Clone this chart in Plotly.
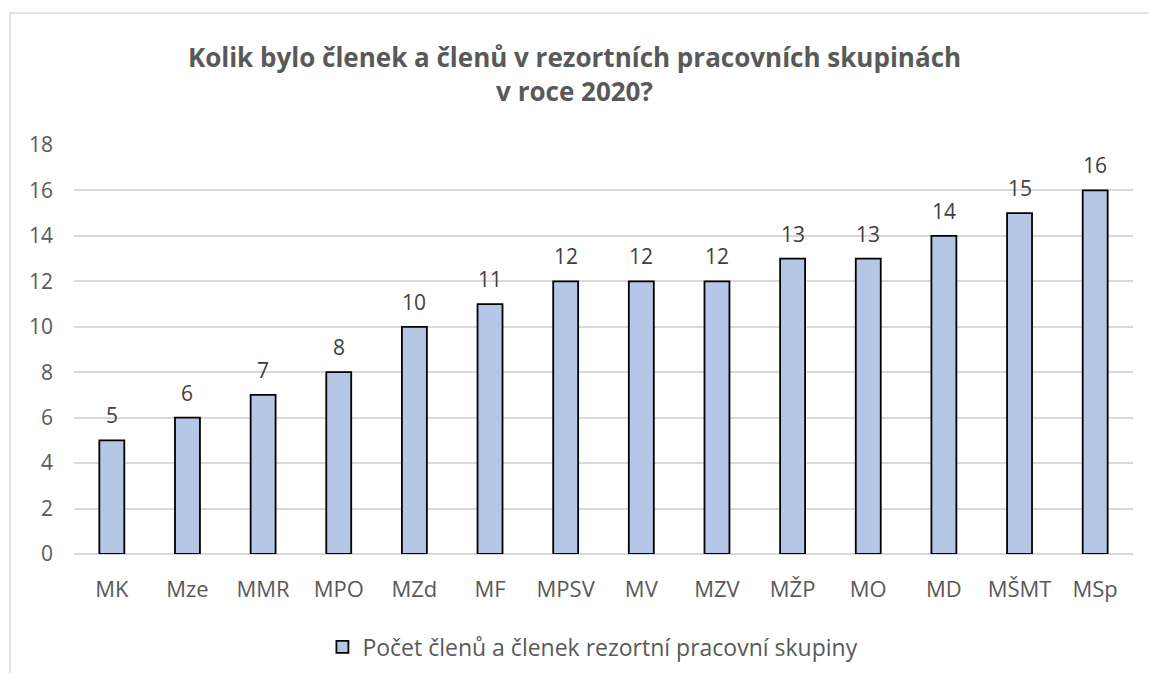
import plotly.graph_objects as go

# data
resorty = ["MK", "Mze", "MMR", "MPO", "MZd", "MF", "MPSV", "MV", "MZV", "MŽP", "MO", "MD", "MŠMT", "MSp"]
pocty = [5, 6, 7, 8, 10, 11, 12, 12, 12, 13, 13, 14, 15, 16]
nazev_serie = "Počet členů a členek rezortní pracovní skupiny"
titulek = "<b>Kolik bylo členek a členů v rezortních pracovních skupinách<br>v roce 2020?</b>"

BAR_FILL = "#B4C7E7"
TEXT_GRAY = "#595959"
GRID = "#D9D9D9"
FONT = "Open Sans, Liberation Sans, sans-serif"

fig = go.Figure()
fig.add_trace(go.Bar(
    x=resorty, y=pocty, name=nazev_serie,
    marker=dict(color=BAR_FILL, line=dict(color="#000000", width=1.8)),
    showlegend=True,
))

# popisky hodnot nad sloupci
for r, p in zip(resorty, pocty):
    fig.add_annotation(x=r, y=p, text=str(p), showarrow=False, yanchor="bottom",
                       yshift=9, font=dict(size=21, color="#404040", family=FONT))

# ramecek grafu (orez vpravo a dole jako v predloze)
fig.add_shape(type="rect", xref="paper", yref="paper",
              x0=-0.0604, x1=1.05, y0=-0.5, y1=1.3227,
              line=dict(color=GRID, width=1.5), fillcolor="rgba(0,0,0,0)", layer="below")

fig.update_layout(
    width=1149, height=673,
    margin=dict(l=74, r=16, t=145, b=119),
    paper_bgcolor="white", plot_bgcolor="white",
    font=dict(family=FONT, color=TEXT_GRAY, size=16),
    title=dict(text=titulek, x=0.5, xanchor="center", y=0.90, yanchor="middle",
               font=dict(size=26, color=TEXT_GRAY, family=FONT)),
    bargap=0.67,
    showlegend=True,
    legend=dict(orientation="h", x=0.49, xanchor="center",
                yref="container", y=1 - 647 / 673, yanchor="middle",
                font=dict(size=23, color=TEXT_GRAY, family=FONT)),
    xaxis=dict(showgrid=False, showline=False, ticks="", ticklabelstandoff=20,
               tickfont=dict(size=22)),
    yaxis=dict(range=[0, 18], dtick=2, showgrid=True, gridcolor=GRID, gridwidth=1.5,
               zeroline=True, zerolinecolor=GRID, zerolinewidth=1.5,
               showline=False, ticks="", ticklabelstandoff=20, tickfont=dict(size=21)),
)

fig.write_html("out.html", config={"displayModeBar": False},
               post_script="document.body.style.margin='0';")
